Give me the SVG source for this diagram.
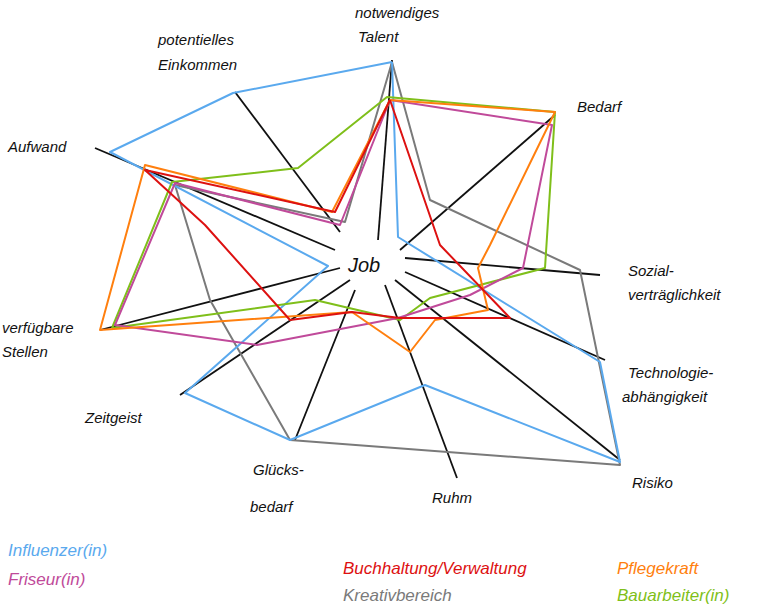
<svg xmlns="http://www.w3.org/2000/svg" width="770" height="608" viewBox="0 0 770 608">
<style>
text{font-family:"Liberation Sans",sans-serif;font-size:15px;font-style:italic;fill:#111}
.ax{stroke:#111;stroke-width:1.8;fill:none}
.s{fill:none;stroke-width:2;stroke-linejoin:round}
.lg{font-size:17px}
</style>
<rect width="770" height="608" fill="#fff"/>
<g id="connectors">
<g id="axes">
<line class="ax" x1="378" y1="240" x2="392" y2="60"/>
<line class="ax" x1="340" y1="232" x2="235" y2="92"/>
<line class="ax" x1="335" y1="250" x2="95" y2="148"/>
<line class="ax" x1="400" y1="250" x2="555" y2="115"/>
<line class="ax" x1="405" y1="258" x2="600" y2="275"/>
<line class="ax" x1="405" y1="272" x2="605" y2="360"/>
<line class="ax" x1="395" y1="280" x2="620" y2="460"/>
<line class="ax" x1="385" y1="285" x2="457" y2="478"/>
<line class="ax" x1="355" y1="290" x2="295" y2="440"/>
<line class="ax" x1="350" y1="280" x2="180" y2="395"/>
<line class="ax" x1="340" y1="268" x2="100" y2="330"/>
</g>
<polyline id="kreativ" class="s" stroke="#7a7a7a" points="392,62 345,222 175,185 210,300 290,440 620,465 580,270 430,200 392,62"/>
<polyline id="influenzer" class="s" stroke="#5aa9ee" points="392,62 233,93 110,152 328,266 185,393 290,440 425,385 620,462 600,362 398,237 392,62"/>
<polyline id="bau" class="s" stroke="#7fbf1a" points="112,328 172,182 298,168 387,97 555,112 545,268 430,298 400,320 315,300 112,328"/>
<polyline id="friseur" class="s" stroke="#c04a9a" points="390,100 552,125 523,268 470,295 398,318 257,345 115,325 175,183 340,225 390,100"/>
<polyline id="pflege" class="s" stroke="#ff7f0e" points="390,100 555,112 490,245 478,268 488,310 435,320 410,352 352,312 100,330 145,165 332,212 390,100"/>
<polyline id="buchhaltung" class="s" stroke="#dd1111" points="390,100 335,212 145,170 205,225 290,320 352,312 400,318 510,318 440,245 390,100"/>
</g>
<g id="labels">
<text x="355" y="18">notwendiges</text><text x="358" y="42">Talent</text>
<text x="158" y="45">potentielles</text><text x="158" y="70">Einkommen</text>
<text x="577" y="112">Bedarf</text>
<text x="8" y="152">Aufwand</text>
<g id="job"><text x="348" y="272" style="font-size:20px">Job</text></g>
<text x="628" y="276">Sozial-</text><text x="628" y="300">verträglichkeit</text>
<text x="628" y="378">Technologie-</text><text x="622" y="402">abhängigkeit</text>
<text x="632" y="488">Risiko</text>
<text x="432" y="503">Ruhm</text>
<text x="253" y="475">Glücks-</text><text x="250" y="512">bedarf</text>
<text x="85" y="423">Zeitgeist</text>
<text x="2" y="333">verfügbare</text><text x="2" y="357">Stellen</text>
</g>
<g id="legend">
<text class="lg" x="8" y="556" style="fill:#5aa9ee">Influenzer(in)</text>
<text class="lg" x="8" y="585" style="fill:#c04a9a">Friseur(in)</text>
<text class="lg" x="343" y="574" style="fill:#dd1111">Buchhaltung/Verwaltung</text>
<text class="lg" x="343" y="601" style="fill:#7a7a7a">Kreativbereich</text>
<text class="lg" x="617" y="574" style="fill:#ff7f0e">Pflegekraft</text>
<text class="lg" x="617" y="601" style="fill:#7fbf1a">Bauarbeiter(in)</text>
</g>
</svg>
